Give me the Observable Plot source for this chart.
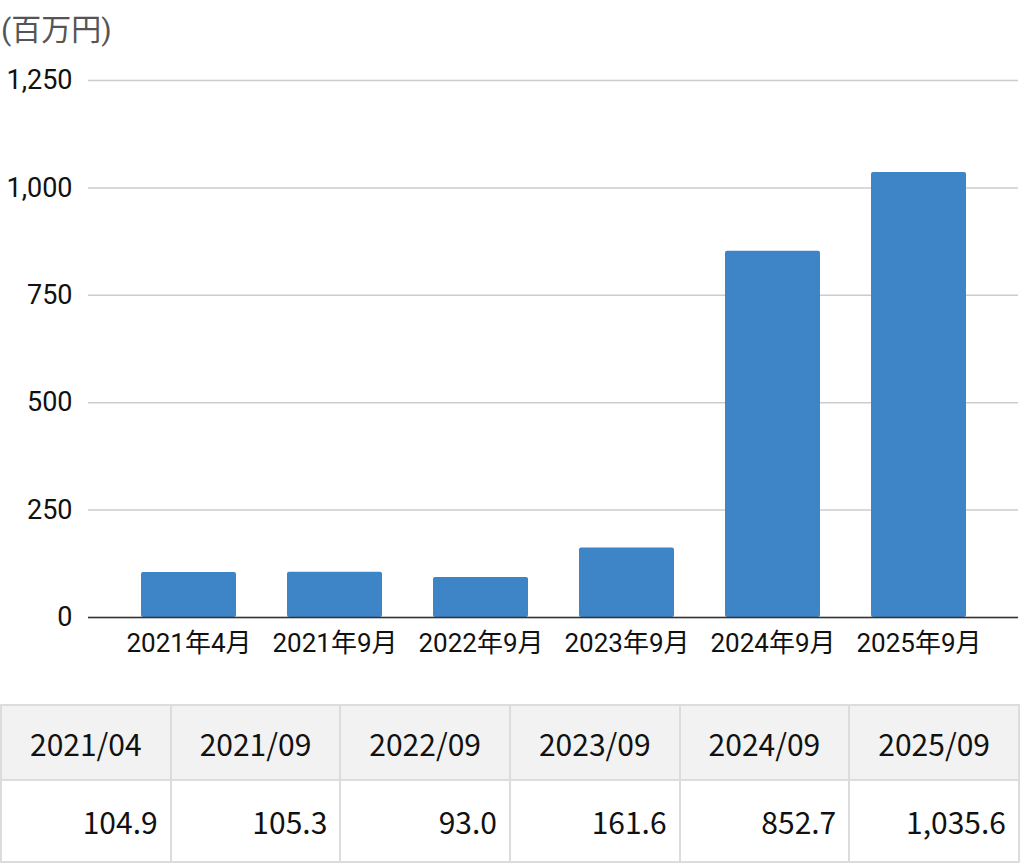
<!DOCTYPE html>
<html>
<head>
<meta charset="utf-8">
<script src="https://cdn.jsdelivr.net/npm/d3@7"></script>
<script src="https://cdn.jsdelivr.net/npm/@observablehq/plot@0.6"></script>
<style>
  html, body { margin: 0; padding: 0; background: #fff; }
  #wrap { position: relative; width: 1020px; height: 864px; overflow: hidden; }
  #unit { position: absolute; left: 1px; top: 12px; font: 30px Roboto, "Noto Sans CJK JP", sans-serif; color: #555; line-height: 1.2; }
  #chart { position: absolute; left: 0; top: 0; }
  #tbl { position: absolute; left: 0; top: 704px; width: 1020px; border-collapse: collapse; table-layout: fixed;
         font-family: "Noto Sans CJK JP", "Noto Sans", sans-serif; font-size: 30px; color: #111; }
  #tbl td, #tbl th { border: 2px solid #dcdcdc; font-weight: normal; line-height: 1.2; }
  #tbl th { background: #f2f2f2; height: 73px; text-align: center; padding: 0; }
  #tbl td { height: 80px; text-align: right; padding: 0 12px 0 0; }
</style>
</head>
<body>
<div id="wrap">
  <div id="chart"></div>
  <div id="unit">(百万円)</div>
  <table id="tbl"><thead><tr id="hrow"></tr></thead><tbody><tr id="vrow"></tr></tbody></table>
</div>
<script>
const categories = ["2021年4月", "2021年9月", "2022年9月", "2023年9月", "2024年9月", "2025年9月"];
const values = [104.9, 105.3, 93.0, 161.6, 852.7, 1035.6];
const tableLabels = ["2021/04", "2021/09", "2022/09", "2023/09", "2024/09", "2025/09"];
const yTicks = [0, 250, 500, 750, 1000, 1250];

const data = categories.map((c, i) => ({category: c, value: values[i]}));

const chart = Plot.plot({
  width: 1020,
  height: 677,
  marginTop: 80,
  marginBottom: 60,
  marginLeft: 88,
  marginRight: 2,
  style: {fontFamily: "Roboto, 'Noto Sans CJK JP', sans-serif", fontSize: "26px", color: "#111", background: "transparent"},
  x: {domain: categories, padding: 0.35, align: 0.5, label: null},
  y: {domain: [0, 1250], ticks: yTicks, label: null},
  marks: [
    Plot.gridY(yTicks, {stroke: "#cccccc", strokeOpacity: 1, strokeWidth: 1.5}),
    Plot.axisY(yTicks, {tickSize: 0, tickPadding: 16, tickFormat: d3.format(","), fontSize: 27, label: null}),
    Plot.axisX({tickSize: 0, tickPadding: 16, fontSize: 26, label: null}),
    Plot.barY(data, {x: "category", y: "value", fill: "#3d85c6", rx: 2}),
    Plot.ruleY([0], {stroke: "#333", strokeWidth: 1.5})
  ]
});
document.getElementById("chart").appendChild(chart);

const hrow = document.getElementById("hrow");
const vrow = document.getElementById("vrow");
const fmt = d3.format(",.1f");
tableLabels.forEach((t, i) => {
  const th = document.createElement("th"); th.textContent = t; hrow.appendChild(th);
  const td = document.createElement("td"); td.textContent = fmt(values[i]); vrow.appendChild(td);
});
</script>
</body>
</html>
